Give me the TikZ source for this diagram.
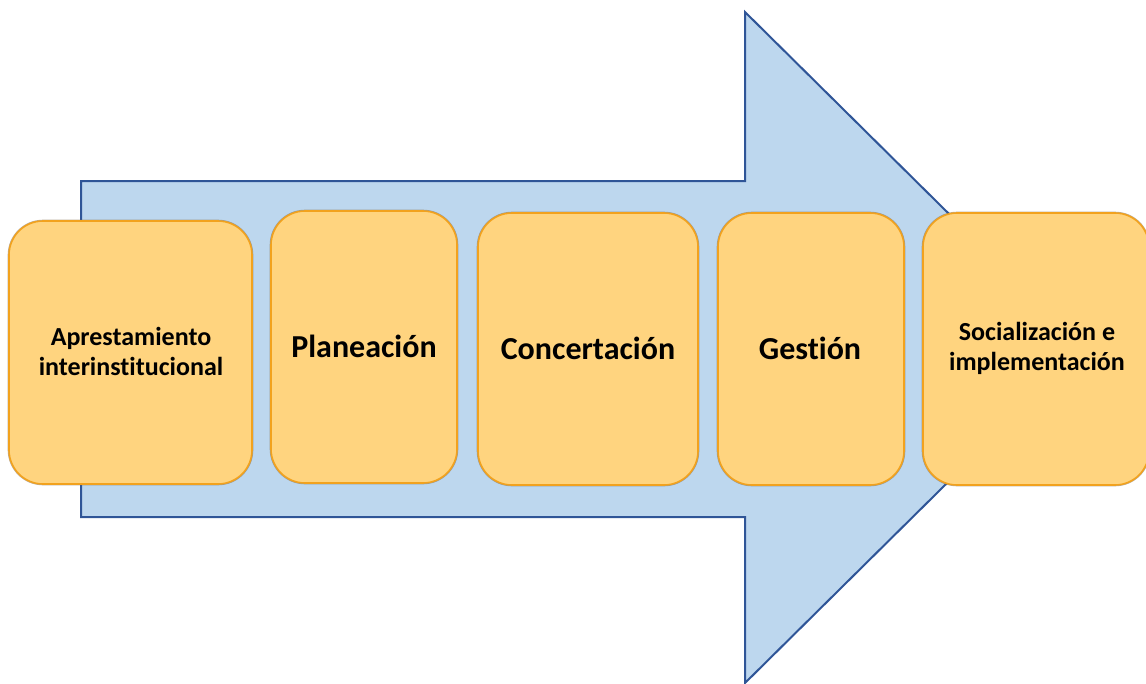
\documentclass[tikz,border=0pt]{standalone}
\usepackage{fontspec}
\setmainfont[RawFeature={-liga}]{Carlito}
\definecolor{arrowfill}{HTML}{BDD7EE}
\definecolor{arrowline}{HTML}{2F5597}
\definecolor{boxfill}{HTML}{FFD47F}
\definecolor{boxline}{HTML}{F2A21E}
\definecolor{boxshadow}{HTML}{7F6A4A}
\begin{document}
\begin{tikzpicture}[x=1pt,y=-1pt,
  stagebox/.style={draw=boxline, line width=1.6pt, fill=boxfill, rounded corners=34pt, inner sep=0pt,
    font=\bfseries, align=center, text=black},
  bigtext/.style={font=\fontsize{32}{38}\selectfont\bfseries},
  smalltext/.style={font=\fontsize{26}{30}\selectfont\bfseries}]
\useasboundingbox (0,0) rectangle (1146,683);
% big arrow
\draw[fill=arrowfill, draw=arrowline, line width=2pt, line join=miter]
  (81,181) -- (745,181) -- (745,12) -- (1084,347.5) -- (745,683) -- (745,517) -- (81,517) -- cycle;
% box shadows
\foreach \xa/\ya/\xb/\yb in {9/221/252/484, 271/211/457/483, 478/213/698/485, 718/213/904/485, 923/213/1149/485}{
  \draw[boxshadow, line width=2.6pt, rounded corners=34pt, opacity=0.55] (\xa,\ya) rectangle (\xb,\yb);
}
\node[stagebox, minimum width=243pt, minimum height=263pt] (b1) at (130.5,352.5) {};
\node[stagebox, minimum width=186pt, minimum height=272pt] (b2) at (364,347) {};
\node[stagebox, minimum width=220pt, minimum height=272pt] (b3) at (588,349) {};
\node[stagebox, minimum width=186pt, minimum height=272pt] (b4) at (811,349) {};
\node[stagebox, minimum width=226pt, minimum height=272pt] (b5) at (1036,349) {};
\node[smalltext, align=center] (t1) at (131,351) {Aprestamiento\\interinstitucional};
\node[bigtext] (t2) at (364,346) {Planeación};
\node[bigtext] (t3) at (588,348) {Concertación};
\node[bigtext] (t4) at (810,348) {Gestión};
\node[smalltext, align=center] (t5) at (1037,348) {Socialización e\\implementación};
\end{tikzpicture}
\end{document}
